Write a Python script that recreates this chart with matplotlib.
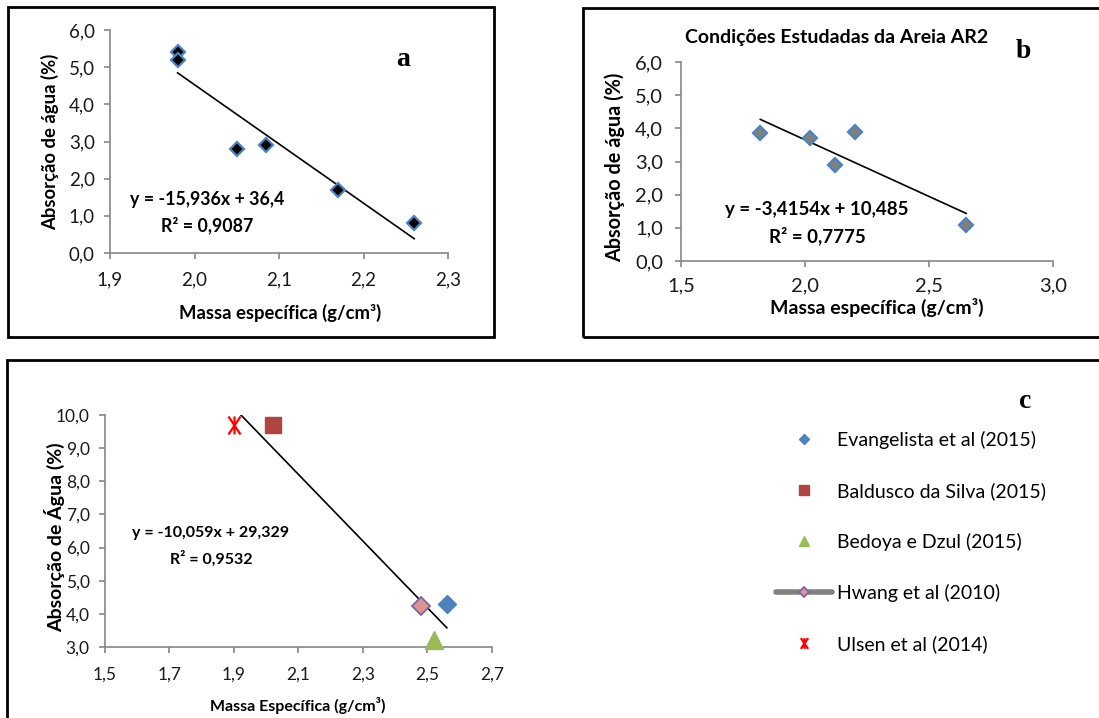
import matplotlib
matplotlib.use("Agg")
import matplotlib.pyplot as plt
from matplotlib.patches import Rectangle
from matplotlib.lines import Line2D
from matplotlib.path import Path
import numpy as np

W, H = 1099, 718

# Painel a
a_massa = [1.98, 1.98, 2.05, 2.085, 2.17, 2.26]
a_absorcao = [5.4, 5.2, 2.8, 2.9, 1.7, 0.8]
a_coef = (-15.936, 36.4)
a_r2 = 0.9087
a_xticks = [1.9, 2.0, 2.1, 2.2, 2.3]
a_yticks = [0, 1, 2, 3, 4, 5, 6]

# Painel b
b_massa = [1.82, 2.02, 2.12, 2.20, 2.65]
b_absorcao = [3.87, 3.70, 2.90, 3.90, 1.10]
b_coef = (-3.4154, 10.485)
b_r2 = 0.7775
b_xticks = [1.5, 2.0, 2.5, 3.0]
b_yticks = [0, 1, 2, 3, 4, 5, 6]

# Painel c
c_autores = ["Evangelista et al (2015)", "Baldusco da Silva (2015)",
             "Bedoya e Dzul (2015)", "Hwang et al (2010)", "Ulsen et al (2014)"]
c_massa = [2.56, 2.02, 2.52, 2.48, 1.90]
c_absorcao = [4.30, 9.70, 3.20, 4.25, 9.70]
c_coef = (-10.059, 29.329)
c_r2 = 0.9532
c_xticks = [1.5, 1.7, 1.9, 2.1, 2.3, 2.5, 2.7]
c_yticks = [3, 4, 5, 6, 7, 8, 9, 10]

plt.rcParams['font.family'] = ['Lato', 'DejaVu Sans']
AZUL = "#4F81BD"
CINZA = "#868686"

# asterisco do Excel: X com traço vertical
ASTER = Path([(0, -1), (0, 1), (-0.67, -1), (0.67, 1), (-0.67, 1), (0.67, -1)],
             [Path.MOVETO, Path.LINETO] * 3)

fig = plt.figure(figsize=(W / 100, H / 100), dpi=100)


def px(x, y):
    return x / W, 1 - y / H


def eixo(l, t, r, b):
    return fig.add_axes([l / W, 1 - b / H, (r - l) / W, (b - t) / H])


def fmt(v, casas=1):
    return f"{v:.{casas}f}".replace(".", ",")


def estilo(ax, xt, yt, padx, pady, size):
    ax.set_xlim(xt[0], xt[-1])
    ax.set_ylim(yt[0], yt[-1])
    ax.set_xticks(xt)
    ax.set_xticklabels([fmt(v) for v in xt])
    ax.set_yticks(yt)
    ax.set_yticklabels([fmt(v) for v in yt])
    for s in ["top", "right"]:
        ax.spines[s].set_visible(False)
    for s in ["left", "bottom"]:
        ax.spines[s].set_color(CINZA)
        ax.spines[s].set_linewidth(1.2)
    ax.tick_params(direction="out", length=4, width=1.2, color=CINZA, labelsize=size,
                   labelcolor="#1a1a1a")
    ax.tick_params(axis="x", pad=padx)
    ax.tick_params(axis="y", pad=pady)
    ax.patch.set_alpha(0)


def caixa(l, t, r, b):
    x0, y1 = px(l, t)
    x1, y0 = px(r, b)
    fig.patches.append(Rectangle((x0, y0), x1 - x0, y1 - y0, transform=fig.transFigure,
                                 fill=False, edgecolor="black", linewidth=2))


def tendencia(ax, xs, coef):
    x = np.array([min(xs), max(xs)])
    ax.plot(x, coef[0] * x + coef[1], color="black", lw=1.2, zorder=2)


def equacao(coef, casas, r2, x, y1, y2, size):
    a, b = coef
    txt = f"y = {fmt(a, casas[0])}x + {fmt(b, casas[1])}"
    kw = dict(ha="center", va="center", fontsize=size, fontweight="bold")
    fig.text(*px(x, y1), txt, **kw)
    fig.text(*px(x, y2), f"R² = {fmt(r2, 4)}", **kw)


def rotulo(x, y, txt, size, rot=0):
    fig.text(*px(x, y), txt, ha="center", va="center", rotation=rot,
             fontsize=size, fontweight="bold")


def letra(x, y, txt):
    fig.text(*px(x, y), txt, ha="center", va="center", fontsize=20,
             fontweight="bold", family="Liberation Serif")


# caixas dos paineis
caixa(8, 7, 494, 337)
caixa(583, 8, 1110, 337)
caixa(7, 360, 1110, 730)

# ---- painel a
ax = eixo(110, 30, 448, 253)
estilo(ax, a_xticks, a_yticks, padx=9, pady=7, size=13.5)
tendencia(ax, a_massa, a_coef)
ax.plot(a_massa, a_absorcao, ls="none", marker="D", ms=7, mfc="black",
        mec=AZUL, mew=1.6, clip_on=False, zorder=3)
equacao(a_coef, (3, 1), a_r2, 207, 200, 225, size=12.8)
rotulo(280, 313, "Massa específica (g/cm³)", 13.3)
rotulo(50, 142, "Absorção de água (%)", 13.3, rot=90)
letra(403, 60, "a")

# ---- painel b
ax = eixo(681, 62, 1053, 261)
estilo(ax, b_xticks, b_yticks, padx=8, pady=9, size=14.5)
tendencia(ax, b_massa, b_coef)
ax.plot(b_massa, b_absorcao, ls="none", marker="D", ms=7.5, mfc="#7F7F7F",
        mec=AZUL, mew=1.6, clip_on=False, zorder=3)
equacao(b_coef, (4, 3), b_r2, 817, 210, 236, size=13.5)
rotulo(837, 37, "Condições Estudadas da Areia AR2", 14)
rotulo(877, 307, "Massa específica (g/cm³)", 14)
rotulo(615, 167, "Absorção de água (%)", 14.3, rot=90)
letra(1023, 52, "b")

# ---- painel c
ax = eixo(105, 415, 492, 647)
estilo(ax, c_xticks, c_yticks, padx=10, pady=7, size=12.5)
tendencia(ax, c_massa, c_coef)
estilos_c = [
    dict(marker="D", ms=9, mfc=AZUL, mec=AZUL, mew=1),
    dict(marker="s", ms=11, mfc="#AD4542", mec="#AD4542", mew=1),
    dict(marker="^", ms=13, mfc="#9BBB59", mec="#9BBB59", mew=1),
    dict(marker="D", ms=9, mfc="#D99694", mec="#8064A2", mew=1.3),
    dict(marker=ASTER, ms=13, mfc="red", mec="red", mew=1.6),
]
handles = []
for xv, yv, nome, st in zip(c_massa, c_absorcao, c_autores, estilos_c):
    ax.plot([xv], [yv], ls="none", clip_on=False, zorder=3, **st)
    st_leg = dict(st)
    st_leg["ms"] = st["ms"] * 0.6
    if nome.startswith("Hwang"):
        handles.append(Line2D([], [], color="#808080", lw=4, solid_capstyle="round",
                              label=nome, **st_leg))
    else:
        handles.append(Line2D([], [], ls="none", label=nome, **st_leg))
equacao(c_coef, (3, 3), c_r2, 211, 533, 559, size=11.5)
rotulo(298, 705, "Massa Específica (g/cm³)", 11.5)
rotulo(55, 537, "Absorção de Água (%)", 14, rot=90)
letra(1025, 402, "c")
fig.legend(handles=handles, loc="upper left", bbox_to_anchor=px(776, 431),
           frameon=False, fontsize=14, labelspacing=1.70, handlelength=2.9,
           handletextpad=0.26, borderpad=0, borderaxespad=0)

fig.savefig("out.png", dpi=100)
